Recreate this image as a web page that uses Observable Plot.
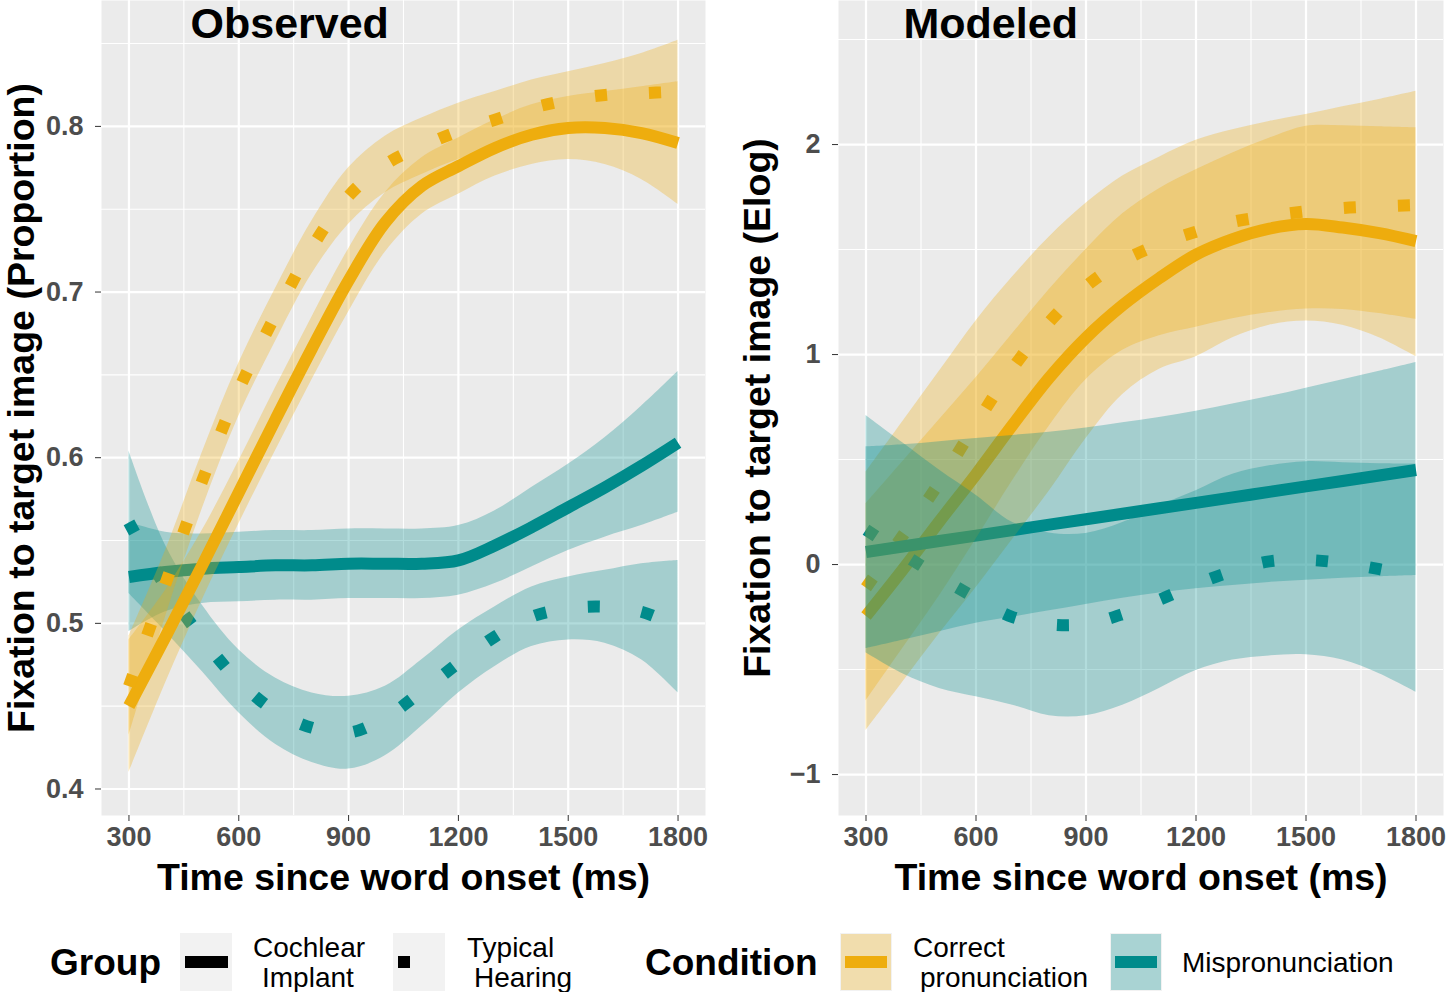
<!DOCTYPE html>
<html><head><meta charset="utf-8">
<script src="https://cdn.jsdelivr.net/npm/d3@7"></script>
<script src="https://cdn.jsdelivr.net/npm/@observablehq/plot@0.6"></script>
<style>
body{margin:0;background:#fff;font-family:"Liberation Sans",Arial,sans-serif;}
#wrap{position:relative;width:1446px;height:992px;overflow:hidden;}
#left{position:absolute;left:0;top:0;}
#right{position:absolute;left:720px;top:0;}
#legend{position:absolute;left:0;top:920px;}
svg{overflow:visible;}
</style></head>
<body><div id="wrap"><div id="left"></div><div id="right"></div><div id="legend"></div></div>
<script>
// ---------- data ----------
const times = [300,400,500,600,700,800,900,1000,1100,1200,1300,1400,1500,1600,1700,1800];
const xTicks = [300,600,900,1200,1500,1800];
const xMinor = [450,750,1050,1350,1650];

// Observed panel (proportion)
const obsTicks = [0.4,0.5,0.6,0.7,0.8];
const obsMinor = [0.45,0.55,0.65,0.75,0.85];
const obsCorCI   = [0.450,0.492,0.535,0.579,0.623,0.666,0.707,0.742,0.764,0.776,0.787,0.795,0.799,0.799,0.796,0.790];
const obsCorCILo = [0.410,0.464,0.514,0.560,0.604,0.647,0.688,0.724,0.747,0.759,0.770,0.777,0.780,0.777,0.768,0.753];
const obsCorCIHi = [0.490,0.520,0.556,0.598,0.642,0.685,0.726,0.760,0.781,0.793,0.804,0.813,0.818,0.821,0.824,0.827];
const obsCorTH   = [0.462,0.524,0.586,0.641,0.686,0.727,0.758,0.777,0.788,0.797,0.804,0.811,0.816,0.819,0.820,0.821];
const obsCorTHLo = [0.432,0.504,0.569,0.625,0.670,0.711,0.741,0.760,0.771,0.780,0.787,0.794,0.799,0.800,0.796,0.790];
const obsCorTHHi = [0.492,0.544,0.603,0.657,0.702,0.743,0.775,0.794,0.805,0.814,0.821,0.828,0.833,0.838,0.844,0.852];
const obsMisCI   = [0.528,0.531,0.533,0.534,0.535,0.535,0.536,0.536,0.536,0.538,0.547,0.558,0.570,0.582,0.595,0.609];
const obsMisCILo = [0.495,0.507,0.512,0.513,0.514,0.514,0.515,0.515,0.515,0.517,0.524,0.534,0.544,0.552,0.559,0.567];
const obsMisCIHi = [0.561,0.555,0.554,0.555,0.556,0.556,0.557,0.557,0.557,0.559,0.568,0.582,0.596,0.612,0.631,0.652];
const obsMisTH   = [0.561,0.522,0.491,0.465,0.447,0.437,0.434,0.443,0.459,0.476,0.492,0.504,0.509,0.510,0.507,0.498];
const obsMisTHLo = [0.518,0.495,0.471,0.446,0.427,0.416,0.412,0.420,0.438,0.458,0.474,0.486,0.490,0.488,0.478,0.458];
const obsMisTHHi = [0.604,0.547,0.511,0.484,0.467,0.458,0.456,0.462,0.478,0.496,0.510,0.522,0.528,0.532,0.536,0.538];

// Modeled panel (Elog)
const modTicks = [-1,0,1,2];
const modMinor = [-0.5,0.5,1.5,2.5];
const modCorCI   = [-0.245,-0.025,0.205,0.430,0.665,0.890,1.080,1.235,1.364,1.476,1.550,1.600,1.622,1.605,1.578,1.540];
const modCorCILo = [-0.79,-0.56,-0.33,-0.11,0.12,0.35,0.60,0.81,0.93,0.99,1.08,1.14,1.16,1.14,1.08,0.99];
const modCorCIHi = [0.29,0.49,0.69,0.89,1.10,1.31,1.50,1.67,1.79,1.88,1.96,2.03,2.087,2.09,2.085,2.08];
const modCorTH   = [-0.11,0.137,0.39,0.67,0.935,1.155,1.325,1.445,1.525,1.585,1.632,1.660,1.682,1.698,1.706,1.712];
const modCorTHLo = [-0.65,-0.40,-0.15,0.12,0.40,0.66,0.88,1.02,1.09,1.13,1.17,1.20,1.217,1.215,1.195,1.167];
const modCorTHHi = [0.44,0.68,0.92,1.16,1.37,1.56,1.72,1.85,1.94,2.02,2.07,2.11,2.143,2.18,2.215,2.254];
const modMisCI   = [0.060,0.086,0.112,0.138,0.164,0.190,0.216,0.242,0.268,0.294,0.320,0.346,0.372,0.398,0.424,0.450];
const modMisCILo = [-0.40,-0.36,-0.32,-0.28,-0.25,-0.22,-0.19,-0.16,-0.135,-0.115,-0.10,-0.085,-0.075,-0.065,-0.058,-0.052];
const modMisCIHi = [0.56,0.57,0.585,0.60,0.615,0.63,0.65,0.675,0.70,0.73,0.765,0.80,0.84,0.88,0.92,0.962];
const modMisTH   = [0.166,0.051,-0.059,-0.160,-0.250,-0.285,-0.283,-0.236,-0.168,-0.094,-0.031,0.015,0.022,0.007,-0.022,-0.060];
const modMisTHLo = [-0.42,-0.52,-0.59,-0.63,-0.67,-0.72,-0.72,-0.67,-0.59,-0.505,-0.455,-0.435,-0.43,-0.455,-0.52,-0.608];
const modMisTHHi = [0.71,0.58,0.45,0.33,0.20,0.15,0.148,0.20,0.28,0.352,0.43,0.47,0.49,0.485,0.48,0.479];

const groups = ["Cochlear Implant","Typical Hearing"];
const conditions = ["Correct pronunciation","Mispronunciation"];
const colors = {"Correct pronunciation":"#EEAD0E","Mispronunciation":"#008B8B"};

// ---------- helpers ----------
const FONT = "Liberation Sans, Arial, Helvetica, sans-serif";
function rows(v, lo, hi){ return times.map((t,i)=>({t, v:v[i], lo:lo[i], hi:hi[i]})); }
function ribbon(d, cond){ return Plot.areaY(d,{x:"t",y1:"lo",y2:"hi",fill:colors[cond],fillOpacity:0.3,curve:"catmull-rom"}); }
function line(d, cond, group){
  const o = {x:"t",y:"v",stroke:colors[cond],strokeWidth:12,curve:"catmull-rom",strokeLinecap:"butt",strokeLinejoin:"round"};
  if (group === "Typical Hearing") o.strokeDasharray = "12,42";
  return Plot.line(d,o);
}

function panel(o){
  return Plot.plot({
    width:o.width, height:905,
    marginLeft:o.marginLeft, marginRight:o.marginRight, marginTop:0, marginBottom:90,
    style:{fontFamily:FONT, background:"transparent", overflow:"visible"},
    x:{domain:[225,1875]},
    y:{domain:o.yDomain},
    marks:[
      Plot.frame({fill:"#EBEBEB", stroke:null}),
      Plot.gridX(xMinor,{stroke:"#fff",strokeOpacity:1,strokeWidth:1.1}),
      Plot.gridY(o.yMinor,{stroke:"#fff",strokeOpacity:1,strokeWidth:1.1}),
      Plot.gridX(xTicks,{stroke:"#fff",strokeOpacity:1,strokeWidth:2.2}),
      Plot.gridY(o.yTicks,{stroke:"#fff",strokeOpacity:1,strokeWidth:2.2}),
      ...o.layers,
      Plot.axisX(xTicks,{tickSize:6,tickPadding:5,fontSize:27,fontWeight:"bold",fill:"#4D4D4D",stroke:"#333",tickFormat:d=>String(d),label:null}),
      Plot.axisY(o.yTicks,{tickSize:6,tickPadding:12,fontSize:27,fontWeight:"bold",fill:"#4D4D4D",stroke:"#333",tickFormat:o.yFormat,label:null}),
      Plot.text([o.title],{frameAnchor:"top-left",textAnchor:"start",lineAnchor:"top",dx:o.titleDx,dy:7,fontSize:43,fontWeight:"bold",fill:"black"}),
      Plot.text(["Time since word onset (ms)"],{frameAnchor:"bottom",lineAnchor:"middle",textAnchor:"middle",dy:62,fontSize:37.5,fontWeight:"bold",fill:"black"}),
      Plot.text([o.yLabel],{frameAnchor:"left",textAnchor:"middle",lineAnchor:"middle",dx:-o.yLabelOffset,rotate:-90,fontSize:37.5,fontWeight:"bold",fill:"black"})
    ]
  });
}

// ---------- Observed ----------
const oCorCI = rows(obsCorCI,obsCorCILo,obsCorCIHi), oCorTH = rows(obsCorTH,obsCorTHLo,obsCorTHHi);
const oMisCI = rows(obsMisCI,obsMisCILo,obsMisCIHi), oMisTH = rows(obsMisTH,obsMisTHLo,obsMisTHHi);
const left = panel({
  width:712, marginLeft:101, marginRight:7,
  yDomain:[0.384,0.876], yTicks:obsTicks, yMinor:obsMinor, yFormat:d3.format(".1f"),
  title:"Observed", titleDx:89, yLabel:"Fixation to target image (Proportion)", yLabelOffset:80,
  layers:[
    ribbon(oMisCI,conditions[1]), ribbon(oMisTH,conditions[1]),
    line(oMisCI,conditions[1],groups[0]), line(oMisTH,conditions[1],groups[1]),
    ribbon(oCorCI,conditions[0]), ribbon(oCorTH,conditions[0]),
    line(oCorCI,conditions[0],groups[0]), line(oCorTH,conditions[0],groups[1])
  ]
});
document.getElementById("left").appendChild(left);

// ---------- Modeled ----------
const mCorCI = rows(modCorCI,modCorCILo,modCorCIHi), mCorTH = rows(modCorTH,modCorTHLo,modCorTHHi);
const mMisCI = rows(modMisCI,modMisCILo,modMisCIHi), mMisTH = rows(modMisTH,modMisTHLo,modMisTHHi);
const right = panel({
  width:726, marginLeft:118, marginRight:3,
  yDomain:[-1.195,2.686], yTicks:modTicks, yMinor:modMinor, yFormat:d3.format("d"),
  title:"Modeled", titleDx:65, yLabel:"Fixation to target image (Elog)", yLabelOffset:81,
  layers:[
    line(mCorCI,conditions[0],groups[0]), line(mCorTH,conditions[0],groups[1]),
    line(mMisCI,conditions[1],groups[0]), line(mMisTH,conditions[1],groups[1]),
    ribbon(mCorCI,conditions[0]), ribbon(mCorTH,conditions[0]),
    ribbon(mMisCI,conditions[1]), ribbon(mMisTH,conditions[1])
  ]
});
document.getElementById("right").appendChild(right);

// ---------- Legend ----------
const lg = d3.select("#legend").append("svg").attr("width",1446).attr("height",72)
  .style("font-family",FONT);
const cy = 42;
function title(x,t){ lg.append("text").attr("x",x).attr("y",cy).attr("dy","0.36em").attr("font-size",37).attr("font-weight","bold").text(t); }
function label(x,lines){
  if (lines.length===1){ lg.append("text").attr("x",x[0]).attr("y",cy).attr("dy","0.36em").attr("font-size",28).text(lines[0]); return; }
  lines.forEach((l,i)=>lg.append("text").attr("x",x[i]).attr("y",cy-15+30*i).attr("dy","0.36em").attr("font-size",28).text(l));
}
function keyBox(x){ lg.append("rect").attr("x",x).attr("y",13).attr("width",52).attr("height",58).attr("fill","#F2F2F2"); }
title(50,"Group");
keyBox(180);
lg.append("line").attr("x1",185).attr("x2",228).attr("y1",cy).attr("y2",cy).attr("stroke","black").attr("stroke-width",12);
label([253,262],["Cochlear","Implant"]);
keyBox(393);
lg.append("line").attr("x1",398).attr("x2",445).attr("y1",cy).attr("y2",cy).attr("stroke","black").attr("stroke-width",12).attr("stroke-dasharray","12,42");
label([467,474],["Typical","Hearing"]);
title(645,"Condition");
[[840,conditions[0]],[1110,conditions[1]]].forEach(([x,c])=>{
  keyBox(x);
  lg.append("rect").attr("x",x+1).attr("y",14).attr("width",50).attr("height",56).attr("fill",colors[c]).attr("fill-opacity",0.3);
  lg.append("line").attr("x1",x+5).attr("x2",x+47).attr("y1",cy).attr("y2",cy).attr("stroke",colors[c]).attr("stroke-width",12);
});
label([913,920],["Correct","pronunciation"]);
label([1182],["Mispronunciation"]);
</script>
</body></html>
